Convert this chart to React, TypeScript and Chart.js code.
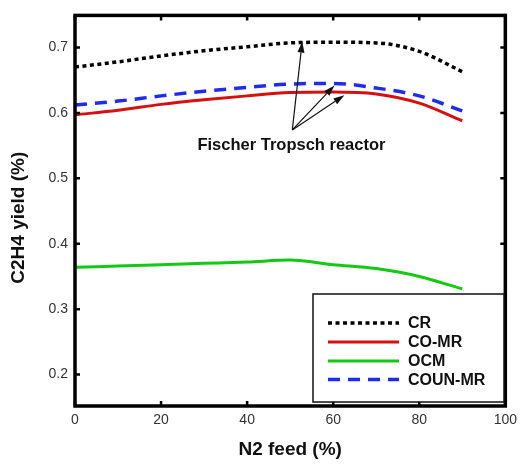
import React, { useEffect, useRef } from "react";
import { Chart, registerables } from "chart.js";

Chart.register(...registerables);

const feed = [0, 10, 20, 30, 40, 50, 60, 70, 80, 90];
const crYield = [0.670, 0.678, 0.687, 0.695, 0.701, 0.707, 0.708, 0.707, 0.694, 0.663];
const coMrYield = [0.597, 0.604, 0.613, 0.620, 0.626, 0.631, 0.632, 0.629, 0.615, 0.588];
const ocmYield = [0.364, 0.366, 0.368, 0.370, 0.372, 0.375, 0.368, 0.362, 0.350, 0.331];
const counMrYield = [0.612, 0.618, 0.626, 0.633, 0.639, 0.644, 0.645, 0.638, 0.626, 0.603];

const xTicks = [0, 20, 40, 60, 80, 100];
const yTicks = [0.2, 0.3, 0.4, 0.5, 0.6, 0.7];
const yTickLabels = ["0.2", "0.3", "0.4", "0.5", "0.6", "0.7"];

const seriesNames = ["CR", "CO-MR", "OCM", "COUN-MR"];

const annotationText = "Fischer Tropsch reactor";
const annotationTextPos = { x: 50.3, y: 0.55 };
const arrowOrigin = { x: 50.5, y: 0.574 };
const arrowTips = [
  { x: 52.8, y: 0.709 },
  { x: 60.3, y: 0.642 },
  { x: 62.6, y: 0.627 },
];

const xTitle = "N2 feed (%)";
const yTitle = "C2H4 yield (%)";

const FONT = "Arial, 'Liberation Sans', Helvetica, sans-serif";

const toXY = (ys: number[]) => feed.map((x, i) => ({ x, y: ys[i] }));

function drawArrow(ctx: CanvasRenderingContext2D, x1: number, y1: number, x2: number, y2: number) {
  const ang = Math.atan2(y2 - y1, x2 - x1);
  const headLen = 11;
  const headW = 3.5;
  const bx = x2 - headLen * Math.cos(ang);
  const by = y2 - headLen * Math.sin(ang);
  ctx.beginPath();
  ctx.moveTo(x1, y1);
  ctx.lineTo(bx, by);
  ctx.lineWidth = 1.2;
  ctx.strokeStyle = "#111";
  ctx.stroke();
  ctx.beginPath();
  ctx.moveTo(x2, y2);
  ctx.lineTo(bx + headW * Math.sin(ang), by - headW * Math.cos(ang));
  ctx.lineTo(bx - headW * Math.sin(ang), by + headW * Math.cos(ang));
  ctx.closePath();
  ctx.fillStyle = "#111";
  ctx.fill();
}

const decorPlugin = {
  id: "decor",
  afterDraw(chart: any) {
    const ctx: CanvasRenderingContext2D = chart.ctx;
    const { left, right, top, bottom } = chart.chartArea;
    const xs = chart.scales.x;
    const ys = chart.scales.y;
    ctx.save();

    // frame
    ctx.strokeStyle = "#000";
    ctx.lineWidth = 3.5;
    ctx.strokeRect(left, top, right - left, bottom - top);

    // inward ticks
    ctx.lineWidth = 2.5;
    const tl = 5;
    xTicks.forEach((v) => {
      const px = xs.getPixelForValue(v);
      ctx.beginPath();
      ctx.moveTo(px, bottom);
      ctx.lineTo(px, bottom - tl);
      ctx.moveTo(px, top);
      ctx.lineTo(px, top + tl);
      ctx.stroke();
    });
    yTicks.forEach((v) => {
      const py = ys.getPixelForValue(v);
      ctx.beginPath();
      ctx.moveTo(left, py);
      ctx.lineTo(left + tl, py);
      ctx.moveTo(right, py);
      ctx.lineTo(right - tl, py);
      ctx.stroke();
    });

    // arrows and annotation
    const ox = xs.getPixelForValue(arrowOrigin.x);
    const oy = ys.getPixelForValue(arrowOrigin.y);
    arrowTips.forEach((t) => {
      drawArrow(ctx, ox, oy, xs.getPixelForValue(t.x), ys.getPixelForValue(t.y));
    });
    ctx.fillStyle = "#111";
    ctx.font = `bold 16.5px ${FONT}`;
    ctx.textAlign = "center";
    ctx.textBaseline = "middle";
    ctx.fillText(annotationText, xs.getPixelForValue(annotationTextPos.x), ys.getPixelForValue(annotationTextPos.y));

    // legend
    const lgL = 313, lgT = 294, lgW = 191, lgH = 108;
    ctx.fillStyle = "#fff";
    ctx.fillRect(lgL, lgT, lgW, lgH);
    ctx.lineWidth = 1.5;
    ctx.strokeStyle = "#111";
    ctx.strokeRect(lgL, lgT, lgW, lgH);
    const rowY = [323, 342, 361, 379.5];
    chart.data.datasets.forEach((ds: any, i: number) => {
      const y = rowY[i];
      ctx.beginPath();
      ctx.setLineDash(ds.borderDash || []);
      ctx.lineWidth = ds.borderWidth;
      ctx.strokeStyle = ds.borderColor;
      ctx.moveTo(328, y);
      ctx.lineTo(399, y);
      ctx.stroke();
      ctx.setLineDash([]);
      ctx.fillStyle = "#111";
      ctx.font = `bold 16px ${FONT}`;
      ctx.textAlign = "left";
      ctx.textBaseline = "middle";
      ctx.fillText(ds.label, 408, y + 1);
    });

    // axis titles
    ctx.fillStyle = "#111";
    ctx.font = `bold 19px ${FONT}`;
    ctx.textAlign = "center";
    ctx.textBaseline = "middle";
    ctx.fillText(xTitle, (left + right) / 2, 450);
    ctx.save();
    ctx.translate(19, (top + bottom) / 2 + 7);
    ctx.rotate(-Math.PI / 2);
    ctx.fillText(yTitle, 0, 0);
    ctx.restore();

    ctx.restore();
  },
};

export default function App() {
  const canvasRef = useRef<HTMLCanvasElement | null>(null);

  useEffect(() => {
    if (!canvasRef.current) return;
    const chart = new Chart(canvasRef.current, {
      type: "line",
      data: {
        datasets: [
          {
            label: seriesNames[0],
            data: toXY(crYield),
            borderColor: "#000000",
            borderWidth: 3.5,
            borderDash: [4, 3.5],
            pointRadius: 0,
            cubicInterpolationMode: "monotone",
          },
          {
            label: seriesNames[1],
            data: toXY(coMrYield),
            borderColor: "#d41010",
            borderWidth: 3,
            pointRadius: 0,
            cubicInterpolationMode: "monotone",
          },
          {
            label: seriesNames[2],
            data: toXY(ocmYield),
            borderColor: "#14c814",
            borderWidth: 3,
            pointRadius: 0,
            cubicInterpolationMode: "monotone",
          },
          {
            label: seriesNames[3],
            data: toXY(counMrYield),
            borderColor: "#1e2cf0",
            borderWidth: 3.5,
            borderDash: [12, 8],
            pointRadius: 0,
            cubicInterpolationMode: "monotone",
          },
        ],
      },
      options: {
        responsive: false,
        animation: false,
        layout: { padding: { left: 0, right: 12, top: 12, bottom: 0 } },
        plugins: {
          legend: { display: false },
          tooltip: { enabled: false },
        },
        scales: {
          x: {
            type: "linear",
            min: 0,
            max: 100,
            grid: { display: false, drawTicks: false },
            border: { display: false },
            afterFit: (s: any) => {
              s.height = 58;
            },
            afterBuildTicks: (s: any) => {
              s.ticks = xTicks.map((v) => ({ value: v }));
            },
            ticks: {
              padding: 6,
              color: "#333",
              font: { family: FONT, size: 14 },
              maxRotation: 0,
              callback: (v: any) => String(v),
            },
          },
          y: {
            type: "linear",
            min: 0.152,
            max: 0.749,
            grid: { display: false, drawTicks: false },
            border: { display: false },
            afterFit: (s: any) => {
              s.width = 75;
            },
            afterBuildTicks: (s: any) => {
              s.ticks = yTicks.map((v) => ({ value: v }));
            },
            ticks: {
              padding: 7,
              color: "#333",
              font: { family: FONT, size: 14 },
              callback: (v: any) => {
                const i = yTicks.findIndex((t) => Math.abs(t - Number(v)) < 1e-6);
                return i >= 0 ? yTickLabels[i] : "";
              },
            },
          },
        },
      },
      plugins: [decorPlugin],
    });
    return () => chart.destroy();
  }, []);

  return (
    <div style={{ position: "fixed", left: 0, top: 0, width: 523, height: 464, background: "#fff" }}>
      <canvas ref={canvasRef} width={523} height={464} />
    </div>
  );
}
